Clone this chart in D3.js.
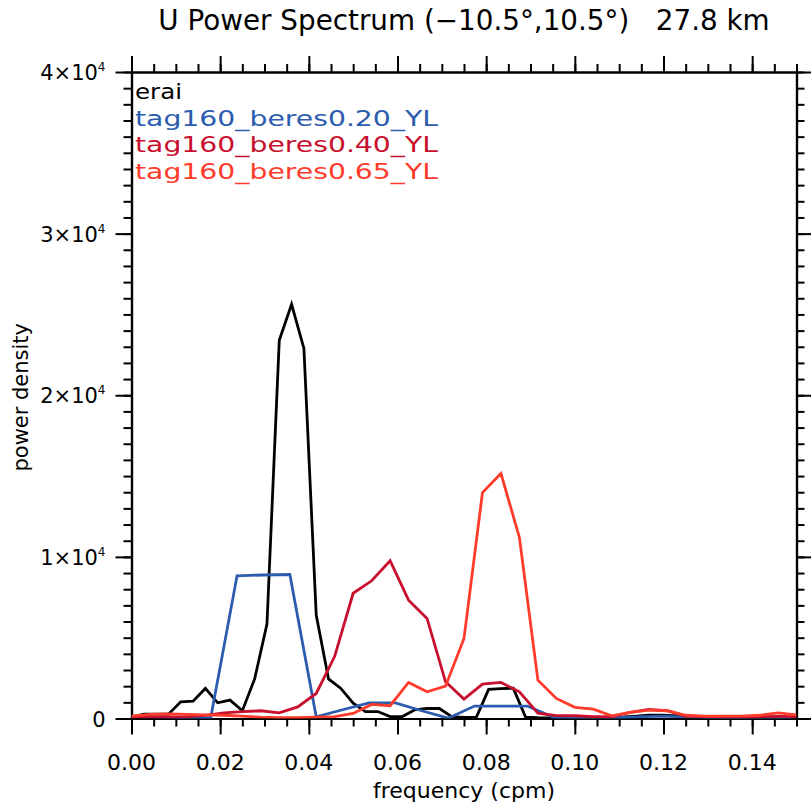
<!DOCTYPE html>
<html>
<head>
<meta charset="utf-8">
<script src="https://cdn.jsdelivr.net/npm/d3@7"></script>
<style>
  body { margin: 0; background: #fff; }
  svg text { font-family: "DejaVu Sans", sans-serif; }
</style>
</head>
<body>
<div id="chart"></div>
<script>
// sample spacing (cycles per month) of each spectrum
const STEP = { erai: 1 / 360, b020: 1 / 168, b040: 1 / 240, b065: 1 / 240 };

const erai = [70, 270, 270, 270, 1030, 1075, 1860, 970, 1140, 480, 2450, 5850, 23400, 25630, 22900,
  6400, 2450, 1860, 950, 430, 430, 120, 120, 540, 620, 620, 110, 70, 70, 1800, 1850, 1880, 90, 50,
  40, 40, 40, 50, 60, 80, 100, 150, 200, 200, 180, 150, 80, 50, 40, 40, 40, 40, 40, 40, 40];
const beres020 = [100, 100, 50, 30, 8830, 8880, 8910, 105, 540, 970, 970, 480, 20, 770, 770, 770,
  70, 50, 30, 80, 150, 100, 60, 50, 60, 60];
const beres040 = [100, 100, 100, 120, 200, 350, 420, 480, 350, 720, 1550, 3850, 7750, 8520, 9760,
  7320, 6190, 2270, 1200, 2130, 2230, 1650, 330, 180, 170, 110, 110, 380, 560, 480, 150, 120, 100,
  100, 120, 130, 120];
const beres065 = [150, 250, 280, 260, 220, 200, 150, 80, 60, 50, 80, 120, 315, 870, 790, 2230, 1650,
  2000, 4950, 13980, 15160, 11200, 2370, 1240, 690, 580, 170, 380, 520, 480, 200, 150, 150, 150,
  200, 350, 230];

const seriesNames = ["erai", "tag160_beres0.20_YL", "tag160_beres0.40_YL", "tag160_beres0.65_YL"];
const seriesColors = ["#000000", "#2b5cae", "#c8102e", "#ff3b2b"];

const xTicks = [0, 0.02, 0.04, 0.06, 0.08, 0.10, 0.12, 0.14];
const yTicks = [0, 10000, 20000, 30000, 40000];
const yTickLabels = [["0", ""], ["1×10", "4"], ["2×10", "4"], ["3×10", "4"], ["4×10", "4"]];

const MARGIN = { TOP: 72, LEFT: 131.5 };
const WIDTH = 665;
const HEIGHT = 646.5;

const svg = d3.select("#chart").append("svg")
  .attr("width", 811)
  .attr("height", 803);

const g = svg.append("g")
  .attr("transform", `translate(${MARGIN.LEFT}, ${MARGIN.TOP})`);

const x = d3.scaleLinear().domain([0, 0.15]).range([0, WIDTH]);
const y = d3.scaleLinear().domain([0, 40000]).range([HEIGHT, 0]);

const xMinor = d3.range(0, 0.1501, 0.005);
const yMinor = d3.range(0, 40001, 1000);

function styleAxis(sel) {
  sel.selectAll("path").attr("stroke", "#000").attr("stroke-width", 2.2);
  sel.selectAll("line").attr("stroke", "#000").attr("stroke-width", 2);
  sel.selectAll("text").remove();
}

// minor ticks
g.append("g").attr("transform", `translate(0, ${HEIGHT})`)
  .call(d3.axisBottom(x).tickValues(xMinor).tickSize(8).tickSizeOuter(0)).call(styleAxis);
g.append("g")
  .call(d3.axisTop(x).tickValues(xMinor).tickSize(8).tickSizeOuter(0)).call(styleAxis);
g.append("g")
  .call(d3.axisLeft(y).tickValues(yMinor).tickSize(8).tickSizeOuter(0)).call(styleAxis);
g.append("g").attr("transform", `translate(${WIDTH}, 0)`)
  .call(d3.axisRight(y).tickValues(yMinor).tickSize(8).tickSizeOuter(0)).call(styleAxis);

// major ticks
g.append("g").attr("transform", `translate(0, ${HEIGHT})`)
  .call(d3.axisBottom(x).tickValues(xTicks).tickSize(16).tickSizeOuter(0)).call(styleAxis);
g.append("g")
  .call(d3.axisTop(x).tickValues(xTicks).tickSize(16).tickSizeOuter(0)).call(styleAxis);
g.append("g")
  .call(d3.axisLeft(y).tickValues(yTicks).tickSize(16).tickSizeOuter(0)).call(styleAxis);
g.append("g").attr("transform", `translate(${WIDTH}, 0)`)
  .call(d3.axisRight(y).tickValues(yTicks).tickSize(16).tickSizeOuter(0)).call(styleAxis);

// x tick labels
g.selectAll(".xlab").data(xTicks).enter().append("text")
  .attr("x", d => x(d))
  .attr("y", HEIGHT + 51)
  .attr("text-anchor", "middle")
  .attr("font-size", 22)
  .text(d3.format(".2f"));

// y tick labels with superscript exponent
const ylab = g.selectAll(".ylab").data(yTicks).enter().append("text")
  .attr("x", -26)
  .attr("y", d => y(d) + 8)
  .attr("text-anchor", "end")
  .attr("font-size", 21);
ylab.append("tspan").text((d, i) => yTickLabels[i][0]);
ylab.append("tspan")
  .attr("font-size", 12)
  .attr("dy", -9)
  .text((d, i) => yTickLabels[i][1]);

// axis titles
g.append("text")
  .attr("x", WIDTH / 2)
  .attr("y", HEIGHT + 79)
  .attr("text-anchor", "middle")
  .attr("font-size", 22)
  .text("frequency (cpm)");

g.append("text")
  .attr("transform", "rotate(-90)")
  .attr("x", -(HEIGHT / 2 + 2))
  .attr("y", -104)
  .attr("text-anchor", "middle")
  .attr("font-size", 21)
  .text("power density");

svg.append("text")
  .attr("x", MARGIN.LEFT + WIDTH / 2)
  .attr("y", 30)
  .attr("text-anchor", "middle")
  .attr("font-size", 27.8)
  .text("U Power Spectrum (−10.5°,10.5°)\u00a0\u00a0\u00a027.8 km");

// spectra
const line = d3.line()
  .x(d => x(d.f))
  .y(d => y(d.v));

const spectra = [
  { vals: erai, step: STEP.erai },
  { vals: beres020, step: STEP.b020 },
  { vals: beres040, step: STEP.b040 },
  { vals: beres065, step: STEP.b065 }
];

g.append("clipPath").attr("id", "clip")
  .append("rect").attr("width", WIDTH).attr("height", HEIGHT);

spectra.forEach((s, i) => {
  const pts = s.vals.map((v, k) => ({ f: k * s.step, v: v }));
  g.append("path")
    .datum(pts)
    .attr("clip-path", "url(#clip)")
    .attr("fill", "none")
    .attr("stroke", seriesColors[i])
    .attr("stroke-width", 2.8)
    .attr("stroke-linejoin", "miter")
    .attr("d", line);
});

// legend (wide glyphs like the original plotting font)
g.selectAll(".leg").data(seriesNames).enter().append("text")
  .attr("x", 3.5)
  .attr("y", (d, i) => 27 + i * 26.5)
  .attr("font-size", 22)
  .attr("fill", (d, i) => seriesColors[i])
  .attr("textLength", (d, i) => i === 0 ? 47 : 303)
  .attr("lengthAdjust", "spacingAndGlyphs")
  .text(d => d);
</script>
</body>
</html>
